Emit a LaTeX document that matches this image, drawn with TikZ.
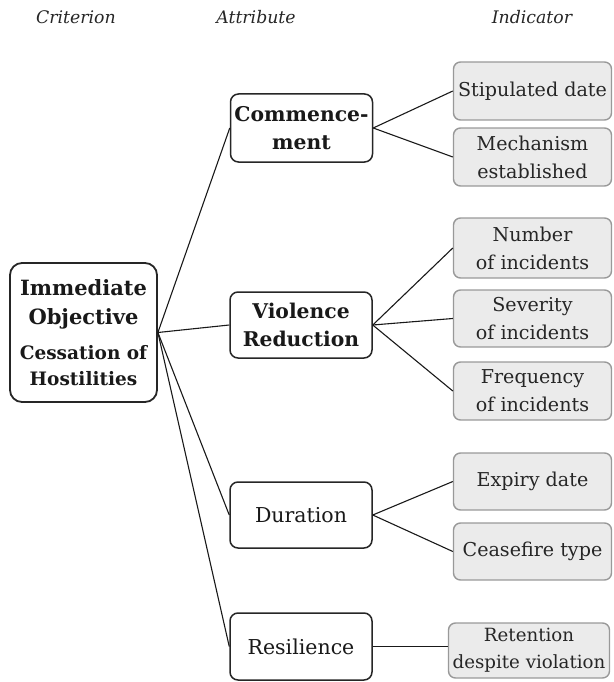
\documentclass[tikz,border=0pt]{standalone}
\usepackage{fontspec}
\setmainfont{DejaVu Serif}
\begin{document}
\begin{tikzpicture}[x=1pt,y=-1pt,
  hdr/.style={font=\itshape\fontsize{17.3}{21}\selectfont, text=black!85},
  rootbox/.style={draw=black!85, line width=1.8pt, rounded corners=12pt, fill=white, align=center, inner sep=0pt, text=black!90},
  attrbox/.style={draw=black!85, line width=1.5pt, rounded corners=8pt, fill=white, align=center, inner sep=0pt, minimum width=142pt, text=black!90},
  indbox/.style={draw=black!40, line width=1.4pt, rounded corners=7pt, fill=black!8, align=center, inner sep=0pt, minimum width=158pt, text=black!85, font=\fontsize{19.1}{28}\selectfont},
  conn/.style={draw=black!90, line width=1.1pt}
]
\useasboundingbox (0,0) rectangle (613,682);
\node[hdr] (h1) at (76,17) {Criterion};
\node[hdr] (h2) at (256,17) {Attribute};
\node[hdr] (h3) at (532,17) {Indicator};

\node[rootbox, minimum width=147pt, minimum height=139pt, font=\bfseries\fontsize{21}{29}\selectfont] (root) at (83.5,332.5)
  {Immediate\\Objective\\[6pt]{\fontsize{18.5}{26}\selectfont Cessation of}\\[-3pt]{\fontsize{18.5}{26}\selectfont Hostilities}};

\node[attrbox, minimum height=68pt, font=\bfseries\fontsize{20.3}{28}\selectfont] (comm) at (301.5,128) {Commence-\\ment};
\node[attrbox, minimum height=66pt, font=\bfseries\fontsize{20.3}{28}\selectfont] (viol) at (301,325) {Violence\\Reduction};
\node[attrbox, minimum height=66pt, font=\fontsize{20.5}{28}\selectfont] (dur) at (301,515) {Duration};
\node[attrbox, minimum height=67pt, font=\fontsize{20.5}{28}\selectfont] (res) at (301,646.5) {Resilience};

\node[indbox, minimum height=58pt] (stip) at (532.5,91) {Stipulated date};
\node[indbox, minimum height=58pt] (mech) at (532.5,157) {Mechanism\\established};
\node[indbox, minimum height=60pt] (num) at (532.5,248) {Number\\of incidents};
\node[indbox, minimum height=57pt] (sev) at (532.5,318.5) {Severity\\of incidents};
\node[indbox, minimum height=58pt] (freq) at (532.5,391) {Frequency\\of incidents};
\node[indbox, minimum height=57pt] (exp) at (532.5,481.5) {Expiry date};
\node[indbox, minimum height=57pt] (cease) at (532.5,551.5) {Ceasefire type};
\node[indbox, minimum height=55pt, minimum width=161pt, font=\fontsize{18.2}{27}\selectfont] (ret) at (529,650.5) {Retention\\despite violation};

\draw[conn] (root.east) -- (comm.west);
\draw[conn] (root.east) -- (viol.west);
\draw[conn] (root.east) -- (dur.west);
\draw[conn] (root.east) -- (res.west);
\draw[conn] (comm.east) -- (stip.west);
\draw[conn] (comm.east) -- (mech.west);
\draw[conn] (viol.east) -- (num.west);
\draw[conn] (viol.east) -- (sev.west);
\draw[conn] (viol.east) -- (freq.west);
\draw[conn] (dur.east) -- (exp.west);
\draw[conn] (dur.east) -- (cease.west);
\draw[conn] (res.east) -- (res.east -| ret.west);
\end{tikzpicture}
\end{document}
